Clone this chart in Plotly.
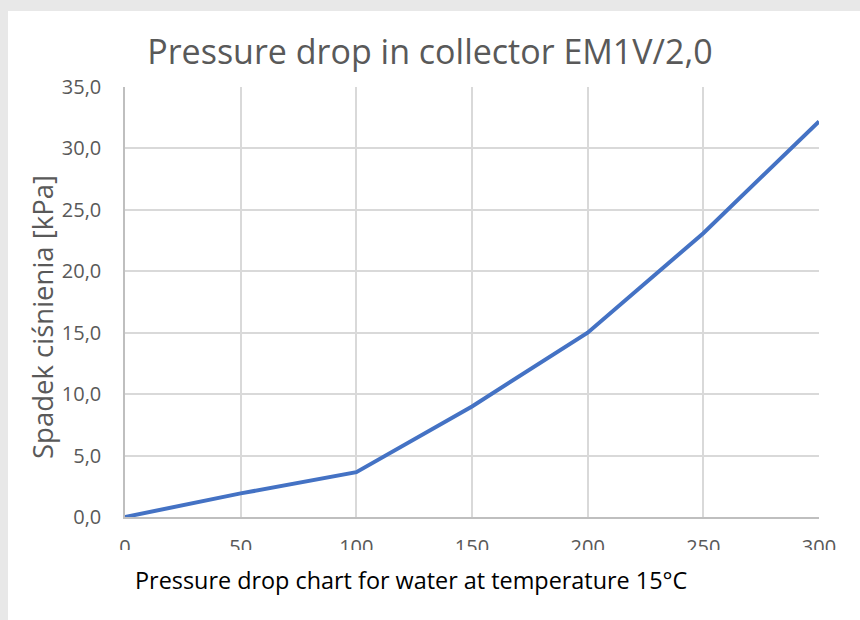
import plotly.graph_objects as go

flow = [0, 50, 100, 150, 200, 250, 300]
pressure_drop = [0.0, 1.92, 3.65, 9.0, 15.0, 23.1, 32.2]
y_ticks = [0, 5, 10, 15, 20, 25, 30, 35]
y_tick_labels = ["0,0", "5,0", "10,0", "15,0", "20,0", "25,0", "30,0", "35,0"]
x_ticks = [0, 50, 100, 150, 200, 250, 300]

title_text = "Pressure drop in collector EM1V/2,0"
y_title = "Spadek ciśnienia [kPa]"
x_note = "Pressure drop chart for water at temperature 15°C"

FONT = "Segoe UI, Open Sans, sans-serif"
TXT = "#595959"

# plot area in pixels
L, R, T, B = 125, 819, 87, 517
W, H = 860, 620
pw, ph = R - L, B - T

def px_x(px):
    return (px - L) / pw

def px_y(py):
    return (B - py) / ph

fig = go.Figure()
fig.add_trace(go.Scatter(
    x=flow, y=pressure_drop, mode="lines",
    line=dict(color="#4472C4", width=4),
    showlegend=False, hoverinfo="skip",
))

fig.update_layout(
    width=W, height=H,
    margin=dict(l=L, r=W - R, t=T, b=H - B, pad=0),
    paper_bgcolor="#e8e8e8",
    plot_bgcolor="white",
    font=dict(family=FONT, color=TXT),
    title=dict(text=title_text, x=0.5, xanchor="center", y=1 - 52 / H,
               yanchor="middle", font=dict(size=34, color=TXT, family=FONT)),
    xaxis=dict(range=[0, 300], tickvals=x_ticks, ticktext=[str(v) for v in x_ticks],
               showgrid=True, gridcolor="#d9d9d9", gridwidth=1.5,
               showline=True, linecolor="#bfbfbf", linewidth=1.5,
               zeroline=False, ticks="", ticklabelstandoff=11,
               tickfont=dict(size=20, color=TXT, family=FONT)),
    yaxis=dict(range=[0, 35], tickvals=y_ticks, ticktext=y_tick_labels,
               showgrid=True, gridcolor="#d9d9d9", gridwidth=1.5,
               showline=True, linecolor="#bfbfbf", linewidth=1.5,
               zeroline=False, ticks="", ticklabelstandoff=18,
               tickfont=dict(size=20, color=TXT, family=FONT)),
    shapes=[
        # white card
        dict(type="rect", xref="paper", yref="paper", layer="below",
             x0=px_x(8), x1=px_x(W + 5), y0=px_y(11), y1=px_y(H + 5),
             fillcolor="white", line=dict(width=0)),
        # clip lower part of x tick labels
        dict(type="rect", xref="paper", yref="paper", layer="above",
             x0=px_x(90), x1=px_x(W), y0=px_y(550), y1=px_y(566),
             fillcolor="white", line=dict(width=0)),
    ],
    annotations=[
        dict(text=y_title, xref="paper", yref="paper", x=px_x(42), y=px_y(317),
             xanchor="center", yanchor="middle", textangle=-90, showarrow=False,
             font=dict(size=27.5, color=TXT, family=FONT)),
        dict(text=x_note, xref="paper", yref="paper", x=px_x(133), y=px_y(580),
             xanchor="left", yanchor="middle", showarrow=False,
             font=dict(size=23.4, color="#000000", family=FONT)),
    ],
)

fig.write_html("out.html", config={"displayModeBar": False},
               post_script="document.body.style.margin='0';document.body.style.overflow='hidden';")
